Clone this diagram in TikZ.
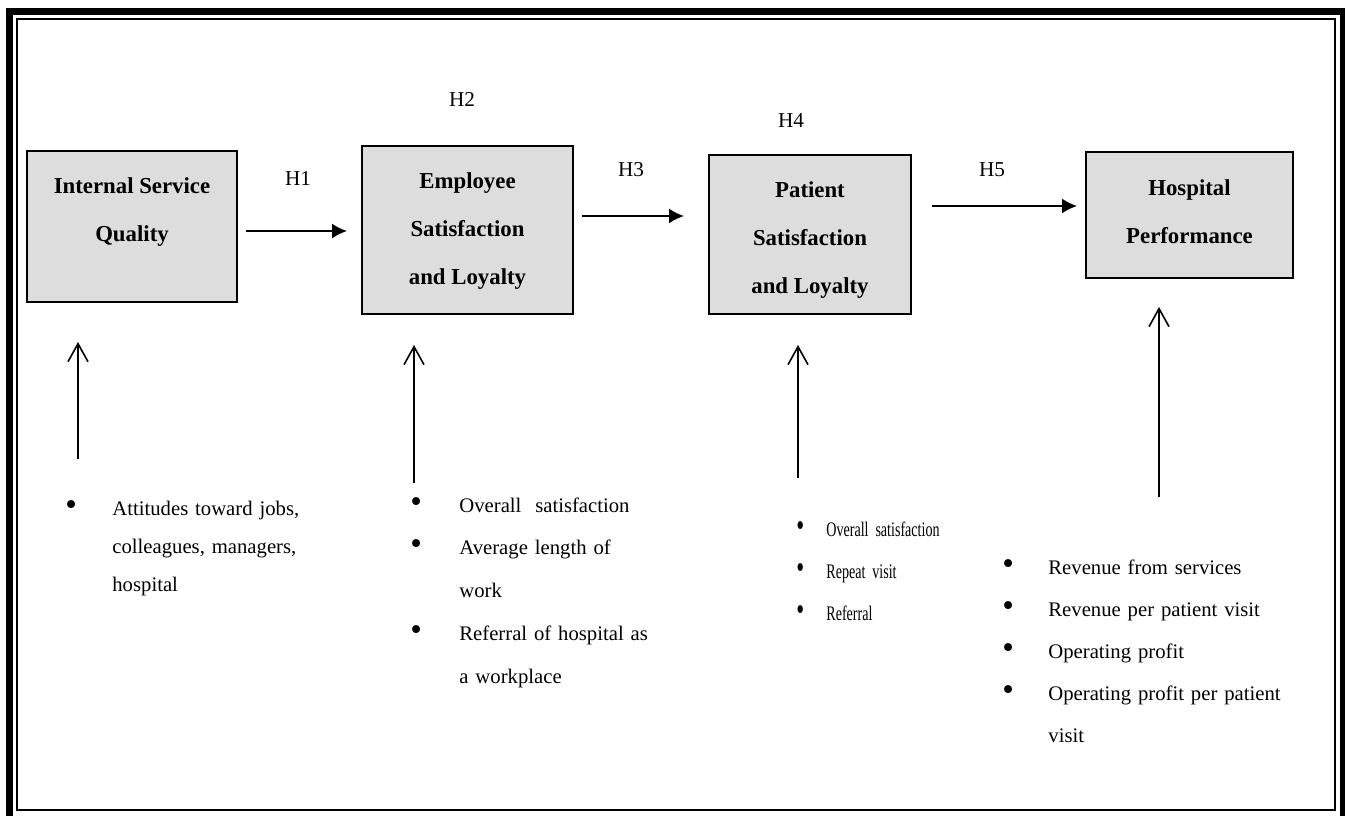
\documentclass[tikz,border=0pt]{standalone}
\usepackage{fontspec}
\setmainfont{Liberation Serif}
\newfontfamily\narrowserif[FakeStretch=0.68]{Liberation Serif}
\usepackage{graphicx}
\usepackage{tikz}
\usetikzlibrary{arrows.meta, calc}
\definecolor{factorGray}{RGB}{221,221,221}
\newcommand{\mbul}[1]{\makebox[#1][l]{\scalebox{1.6}{\textbullet}}}
\newcommand{\mind}[1]{\hspace*{#1}}
\tikzset{
  factor/.style={draw=black, line width=0.9pt, fill=factorGray, inner sep=0},
  factorname/.style={font=\fontsize{11.4}{24}\selectfont\bfseries, align=center, inner sep=0},
  hypo/.style={font=\fontsize{10.6}{12}\selectfont, inner sep=0},
  measures/.style={font=\fontsize{10.35}{#1}\selectfont, anchor=base west, text width=200pt, align=left, inner sep=0},
  hyarrow/.style={-{Latex[length=7.5pt,width=7.5pt]}, line width=0.9pt},
  mearrow/.style={-{Straight Barb[length=9pt,width=10pt]}, line width=0.8pt}
}

\begin{document}
\begin{tikzpicture}[x=0.5pt, y=-0.5pt]

  \useasboundingbox (0,0) rectangle (1345,815);
  \clip (0,0) rectangle (1345,815);

  % frame
  \draw[line width=3.5pt] (9.5,11.5) rectangle (1343.5,840);
  \draw[line width=1pt] (16.5,19) rectangle (1335,810);

  \node[factor, minimum width=105pt, minimum height=75.5pt] (isq) at (132,226.5) {};
  \node[factor, minimum width=105.5pt, minimum height=84pt] (esl) at (467.5,230) {};
  \node[factor, minimum width=101pt, minimum height=79.5pt] (psl) at (810,234.5) {};
  \node[factor, minimum width=103.5pt, minimum height=63pt] (hp) at (1189.5,215) {};

  \node[factorname] (isqname) at ([yshift=7pt]isq.center) {Internal Service\\Quality};
  \node[factorname] (eslname) at ([yshift=-0.75pt]esl.center) {Employee\\Satisfaction\\and Loyalty};
  \node[factorname] (pslname) at ([yshift=-2.75pt]psl.center) {Patient\\Satisfaction\\and Loyalty};
  \node[factorname] (hpname) at ([yshift=1.5pt]hp.center) {Hospital\\Performance};

  \node[hypo] (h1) at (298,178) {H1};
  \node[hypo] (h2) at (462,99) {H2};
  \node[hypo] (h3) at (631,170) {H3};
  \node[hypo] (h4) at (791,121) {H4};
  \node[hypo] (h5) at (992,170) {H5};

  \coordinate (h1a) at (246,231);
  \coordinate (h1b) at (347,231);
  \coordinate (h3a) at (582,216);
  \coordinate (h3b) at (684,216);
  \coordinate (h5a) at (932,206);
  \coordinate (h5b) at (1077,206);

  \draw[hyarrow] (h1a) -- (h1b);
  \draw[hyarrow] (h3a) -- (h3b);
  \draw[hyarrow] (h5a) -- (h5b);

  \coordinate (m1a) at (78,459);
  \coordinate (m1b) at (78,342);
  \coordinate (m2a) at (414,483);
  \coordinate (m2b) at (414,345);
  \coordinate (m3a) at (798,478);
  \coordinate (m3b) at (798,345);
  \coordinate (m4a) at (1159,497);
  \coordinate (m4b) at (1159,307);

  \draw[mearrow] (m1a) -- (m1b);
  \draw[mearrow] (m2a) -- (m2b);
  \draw[mearrow] (m3a) -- (m3b);
  \draw[mearrow] (m4a) -- (m4b);

  % measures under each factor
  \node[measures=19pt] (isqlist) at (65,515) {\mbul{23.5pt}Attitudes toward jobs,\\
    \mind{23.5pt}colleagues, managers,\\
    \mind{23.5pt}hospital};
  \node[measures=21.4pt] (esllist) at (410,512) {\mbul{24.5pt}Overall~ satisfaction\\
    \mbul{24.5pt}Average length of\\
    \mind{24.5pt}work\\
    \mbul{24.5pt}Referral of hospital as\\
    \mind{24.5pt}a workplace};
  \node[measures=21pt] (psllist) at (796,536) {\narrowserif\mbul{15pt}Overall satisfaction\\
    \mbul{15pt}Repeat visit\\
    \mbul{15pt}Referral};
  \node[measures=21.1pt] (hplist) at (1002,574) {\mbul{23pt}Revenue from services\\
    \mbul{23pt}Revenue per patient visit\\
    \mbul{23pt}Operating profit\\
    \mbul{23pt}Operating profit per patient\\
    \mind{23pt}visit};

\end{tikzpicture}
\end{document}
